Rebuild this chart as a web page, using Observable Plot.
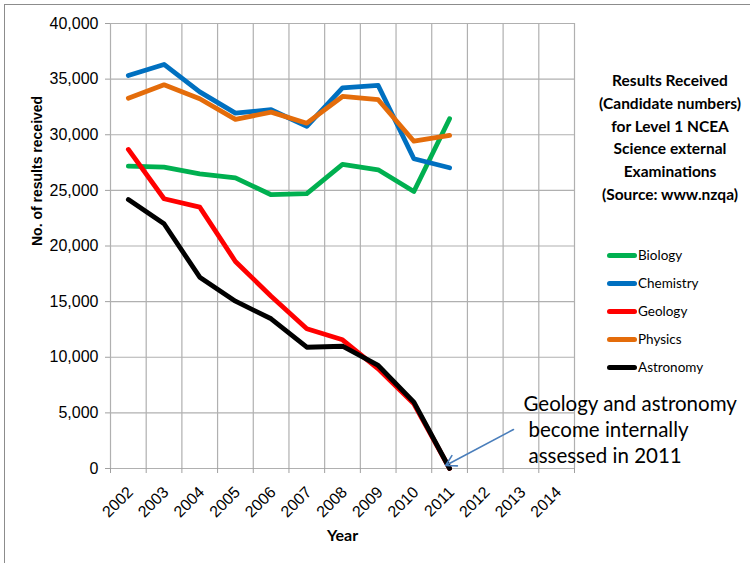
<!DOCTYPE html>
<html><head><meta charset="utf-8">
<script src="https://cdn.jsdelivr.net/npm/d3@7"></script>
<script src="https://cdn.jsdelivr.net/npm/@observablehq/plot@0.6"></script>
<style>
html,body{margin:0;padding:0;overflow:hidden;background:#fff;}
#wrap{position:relative;width:750px;height:563px;overflow:hidden;}
#frame{position:absolute;left:4px;top:4px;width:800px;height:700px;border:1.5px solid #8c8c8c;box-sizing:border-box;}
#chart{position:absolute;left:0;top:0;}
#title{position:absolute;left:590px;width:160px;top:69px;text-align:center;font:bold 15.5px Lato;line-height:22.8px;color:#000;}
#legend{position:absolute;left:607px;top:241px;font:13.5px Lato;color:#000;}
.item{display:flex;align-items:center;height:28px;}
.sw{width:30px;height:5px;border-radius:2.5px;margin-right:1px;}
</style></head>
<body>
<div id="wrap">
  <div id="frame"></div>
  <div id="chart"></div>
  <div id="title"></div>
  <div id="legend"></div>
</div>
<script>
const years = [2002, 2003, 2004, 2005, 2006, 2007, 2008, 2009, 2010, 2011];
const biology   = [27180, 27090, 26490, 26130, 24610, 24700, 27330, 26850, 24900, 31440];
const chemistry = [35330, 36320, 33850, 31940, 32250, 30750, 34220, 34430, 27840, 27030];
const geology   = [28680, 24250, 23490, 18610, 15490, 12560, 11570, 8960, 5820, 0];
const physics   = [33290, 34490, 33240, 31380, 32030, 31040, 33440, 33150, 29420, 29940];
const astronomy = [24180, 22000, 17200, 15040, 13460, 10900, 10990, 9260, 5960, 0];

const subjects = ["Biology", "Chemistry", "Geology", "Physics", "Astronomy"];
const colors = ["#00b050", "#0070c0", "#ff0000", "#e46c0a", "#000000"];
const xTickYears = [2002, 2003, 2004, 2005, 2006, 2007, 2008, 2009, 2010, 2011, 2012, 2013, 2014];
const yTicks = [0, 5000, 10000, 15000, 20000, 25000, 30000, 35000, 40000];
const titleLines = ["Results Received", "(Candidate numbers)", "for Level 1 NCEA", "Science external", "Examinations", "(Source: www.nzqa)"];
const annotationLines = ["Geology and astronomy", "become internally", "assessed in 2011"];
const annotationX = [2013.07, 2013.21, 2013.21];
const annotationY = [5200, 2800, 450];
const arrowFrom = [2012.79, 3500];
const arrowTo = [2010.89, 270];

const seriesValues = [biology, chemistry, geology, physics, astronomy];
const rows = subjects.flatMap((s, k) => years.map((yr, i) => ({subject: s, year: yr, value: seriesValues[k][i]})));
const gridX = [xTickYears[0] - 0.5, ...xTickYears.map(y => y + 0.5)];
const annots = annotationLines.map((t, i) => ({text: t, x: annotationX[i], y: annotationY[i]}));

const chart = Plot.plot({
  width: 750,
  height: 563,
  marginLeft: 110,
  marginRight: 176,
  marginTop: 23,
  marginBottom: 95,
  style: {fontFamily: "Liberation Sans", fontSize: "16px", color: "#000", background: "transparent", overflow: "visible"},
  x: {domain: [gridX[0], gridX[gridX.length - 1]], axis: null},
  y: {domain: [0, 40000], axis: null},
  color: {domain: subjects, range: colors},
  marks: [
    Plot.ruleX(gridX, {stroke: "#b0b0b0", strokeWidth: 1.2, strokeOpacity: 1}),
    Plot.ruleY(yTicks, {stroke: "#b0b0b0", strokeWidth: 1.2, strokeOpacity: 1}),
    Plot.axisY({ticks: yTicks, tickSize: 5, tickPadding: 7, tickFormat: d3.format(","), fontSize: 16, label: null, stroke: "#a0a0a0"}),
    Plot.axisX({ticks: gridX, tickSize: 5, tickFormat: () => "", label: null, stroke: "#a0a0a0"}),
    Plot.axisX({ticks: xTickYears, tickSize: 0, tickPadding: 21, dx: 2, tickRotate: -45, tickFormat: d => String(d), fontSize: 16, fontFamily: "Liberation Sans", label: null}),
    Plot.text(["No. of results received"], {frameAnchor: "left", rotate: -90, dx: -73, fontWeight: "bold", fontSize: 14, fontFamily: "Liberation Sans"}),
    Plot.text(["Year"], {frameAnchor: "bottom", dy: 72, fontWeight: "bold", fontSize: 16, fontFamily: "Lato"}),
    Plot.line(rows, {x: "year", y: "value", z: "subject", stroke: "subject", strokeWidth: 4.8}),
    Plot.arrow([{x1: arrowFrom[0], y1: arrowFrom[1], x2: arrowTo[0], y2: arrowTo[1]}], {x1: "x1", y1: "y1", x2: "x2", y2: "y2", stroke: "#4a7ebb", strokeWidth: 1.6, headLength: 11, bend: 0}),
    Plot.text(annots, {x: "x", y: "y", text: "text", textAnchor: "start", lineAnchor: "bottom", fontSize: 20.5, fontFamily: "Lato"})
  ]
});
document.getElementById("chart").appendChild(chart);

document.getElementById("title").innerHTML = titleLines.map(t => `<div>${t}</div>`).join("");
document.getElementById("legend").innerHTML = subjects.map((s, i) =>
  `<div class="item"><span class="sw" style="background:${colors[i]}"></span><span>${s}</span></div>`).join("");
</script>
</body></html>
